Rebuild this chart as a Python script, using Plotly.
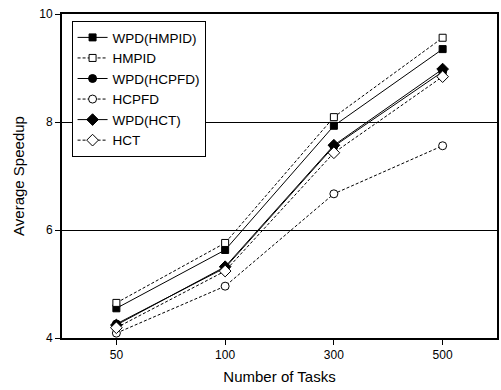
import plotly.graph_objects as go

tasks = ["50", "100", "300", "500"]
wpd_hmpid = [4.55, 5.63, 7.93, 9.35]
hmpid = [4.65, 5.76, 8.09, 9.56]
wpd_hcpfd = [4.26, 5.30, 7.55, 8.93]
hcpfd = [4.09, 4.96, 6.67, 7.56]
wpd_hct = [4.24, 5.32, 7.57, 8.98]
hct = [4.19, 5.24, 7.43, 8.84]

series = [
    ("WPD(HMPID)", wpd_hmpid, "square", "black", "solid", 7),
    ("HMPID", hmpid, "square", "white", "3px,2px", 7),
    ("WPD(HCPFD)", wpd_hcpfd, "circle", "black", "solid", 8),
    ("HCPFD", hcpfd, "circle", "white", "3px,2px", 8),
    ("WPD(HCT)", wpd_hct, "diamond", "black", "solid", 9),
    ("HCT", hct, "diamond", "white", "3px,2px", 9),
]

fig = go.Figure()
for name, vals, sym, fill, dash, size in series:
    fig.add_trace(go.Scatter(
        x=tasks, y=vals, name=name, mode="lines+markers",
        line=dict(color="black", width=1, dash=dash),
        marker=dict(symbol=sym, size=size, color=fill,
                    line=dict(color="black", width=1)),
    ))

fig.update_layout(
    width=501, height=390,
    margin=dict(l=62, r=2, t=14, b=52),
    plot_bgcolor="white", paper_bgcolor="white",
    font=dict(family="Arial, Liberation Sans", size=12, color="black"),
    legend=dict(x=0.022, y=0.978, xanchor="left", yanchor="top",
                bordercolor="black", borderwidth=1, bgcolor="white",
                font=dict(size=13.5), tracegroupgap=0),
    xaxis=dict(type="category", range=[-0.5, 3.5], showgrid=False,
               showline=True, linecolor="black", linewidth=2, mirror=True,
               ticks="outside", ticklen=5, tickcolor="black",
               title=dict(text="Number of Tasks", font=dict(size=15), standoff=10)),
    yaxis=dict(range=[4, 10], tickvals=[4, 6, 8, 10], showgrid=True,
               gridcolor="black", gridwidth=1, zeroline=False,
               showline=True, linecolor="black", linewidth=2, mirror=True,
               ticks="outside", ticklen=5, tickcolor="black",
               title=dict(text="Average Speedup", font=dict(size=15), standoff=11)),
)

fig.write_html("out.html")
